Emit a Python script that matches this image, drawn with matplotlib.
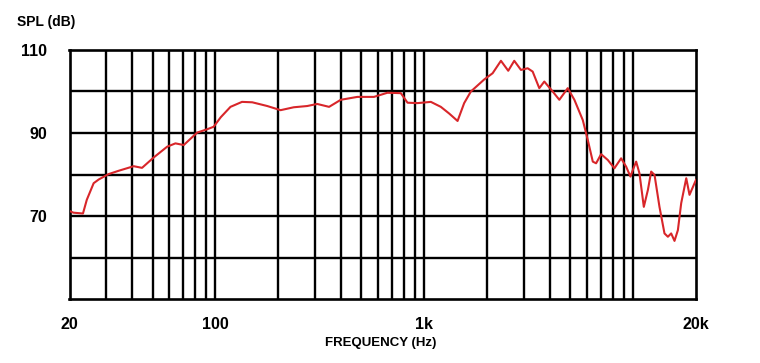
import numpy as np
import matplotlib
matplotlib.use('Agg')
import matplotlib.pyplot as plt

# frequency response (Hz, dB SPL)
freq = [20, 20.9, 23.2, 24.2, 26.1, 27.6, 30.8, 34.4, 40.6, 44.5, 50.6, 58.7,
        64.3, 70.5, 81.7, 91.2, 98, 106, 118, 134, 150, 177, 205, 237, 275,
        307, 350, 398, 478, 574, 666, 772, 831, 928, 1075, 1200, 1315, 1443,
        1552, 1671, 1936, 2124, 2328, 2523, 2696, 2903, 3126, 3303, 3553,
        3755, 4119, 4432, 4863, 5232, 5741, 6066, 6410, 6648, 7025, 7562,
        8135, 8759, 9256, 9707, 9968, 10340, 10720, 11250, 11770, 12200,
        12660, 13370, 14130, 14670, 15210, 15780, 16380, 16990, 17960,
        18620, 19680, 20000]
spl = [71.2, 70.8, 70.6, 73.9, 77.9, 78.8, 80.1, 80.9, 82.0, 81.6, 84.1, 86.7,
       87.5, 87.1, 90.1, 90.9, 91.5, 93.8, 96.3, 97.5, 97.4, 96.5, 95.5, 96.2,
       96.5, 97.0, 96.3, 98.0, 98.7, 98.7, 99.7, 99.6, 97.3, 97.2, 97.5, 96.3,
       94.7, 92.9, 97.2, 100.0, 102.9, 104.4, 107.4, 105.0, 107.4, 105.2,
       105.6, 104.8, 100.8, 102.4, 100.0, 98.0, 100.8, 98.0, 93.1, 88.3, 83.1,
       82.7, 84.9, 83.5, 81.5, 83.9, 81.9, 79.5, 81.1, 83.1, 80.3, 72.2, 76.3,
       80.7, 79.9, 72.2, 65.8, 65.0, 65.8, 64.0, 66.6, 73.1, 79.1, 75.1, 77.9,
       78.7]

ytick_vals = [110, 90, 70]
xtick_vals = [20, 100, 1000, 20000]
xtick_labels = ['20', '100', '1k', '20k']

plt.rcParams['font.family'] = ['Liberation Sans Narrow', 'Liberation Sans', 'DejaVu Sans']
plt.rcParams['font.weight'] = 'bold'

fig = plt.figure(figsize=(7.6, 3.63), dpi=100)
ax = fig.add_axes([69.5/760, 1-299/363, (696-69.5)/760, (299-50)/363])

ax.set_xscale('log')
ax.set_xlim(20, 20000)
ax.set_ylim(50, 110)

# grid: every integer multiple per decade up to 10k, 10 dB steps
vlines = [m*d for d in (10, 100, 1000) for m in range(1, 10)] + [10000]
vlines = [v for v in vlines if 20 < v <= 10000]
for v in vlines:
    ax.axvline(v, color='black', lw=1.7, zorder=1)
for h in range(60, 110, 10):
    ax.axhline(h, color='black', lw=1.7, zorder=1)
for s in ax.spines.values():
    s.set_linewidth(1.9)

ax.plot(freq, spl, color='#d8262a', lw=1.5, zorder=3)

ax.set_xticks(xtick_vals)
ax.set_xticklabels(xtick_labels)
ax.xaxis.set_minor_locator(matplotlib.ticker.NullLocator())
ax.set_yticks(ytick_vals)
ax.tick_params(length=0, labelsize=11.5, pad=13)
ax.tick_params(axis='y', pad=16)

fig.text(17/760, 1-22/363, 'SPL (dB)', fontsize=10, va='center', ha='left')
fig.text(381/760, 1-343/363, 'FREQUENCY (Hz)', fontsize=9.5, va='center', ha='center')

fig.savefig('out.png', dpi=100, facecolor='white')
